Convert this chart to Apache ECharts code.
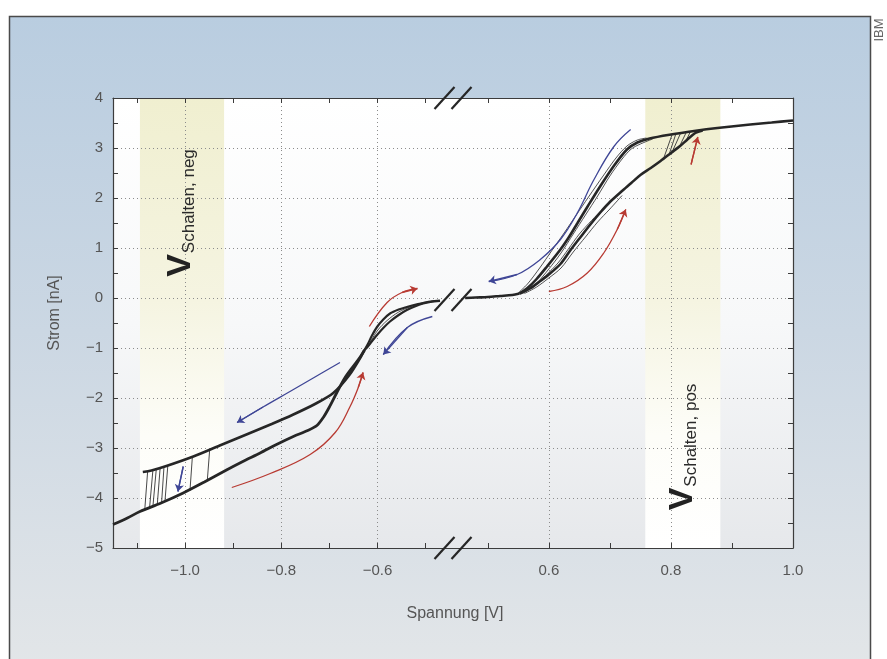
<!DOCTYPE html>
<html><head><meta charset="utf-8">
<script src="https://cdn.jsdelivr.net/npm/echarts@6/dist/echarts.min.js"></script>
<style>html,body{margin:0;padding:0;background:#fff}#c{width:887px;height:659px}</style>
</head><body><div id="c"></div>
<script>
// ---------- data ----------
const yLabels = [-5,-4,-3,-2,-1,0,1,2,3,4];
const xTicksNeg = [-1.1,-1.0,-0.9,-0.8,-0.7,-0.6,-0.5];
const xLabelsNeg = [-1.0,-0.8,-0.6];
const xTicksPos = [0.5,0.6,0.7,0.8,0.9,1.0];
const xLabelsPos = [0.6,0.8,1.0];
const xRangeNeg = [-1.15,-0.443];
const xRangePos = [0.443,1.0];
const bandNeg = [-1.094,-0.919];
const bandPos = [0.758,0.881];

const negLensA = [[-0.47,-0.05],[-0.49,-0.07],[-0.505,-0.10],[-0.52,-0.13],[-0.539,-0.18],[-0.556,-0.23],[-0.574,-0.31],[-0.588,-0.43],[-0.601,-0.58],[-0.612,-0.76],[-0.620,-0.92],[-0.627,-1.04]];
const negLensB = [[-0.47,-0.06],[-0.49,-0.08],[-0.505,-0.11],[-0.52,-0.16],[-0.539,-0.24],[-0.556,-0.34],[-0.574,-0.47],[-0.588,-0.60],[-0.601,-0.74],[-0.612,-0.87],[-0.620,-0.97],[-0.627,-1.04]];
const negLensC = [[-0.48,-0.06],[-0.505,-0.09],[-0.53,-0.17],[-0.556,-0.28],[-0.58,-0.45],[-0.60,-0.65],[-0.615,-0.88]];
const negOn = [[-0.627,-1.04],[-0.636,-1.2],[-0.66,-1.56],[-0.692,-1.9],[-0.73,-2.12],[-0.775,-2.33],[-0.82,-2.52],[-0.87,-2.72],[-0.928,-2.95],[-0.983,-3.17],[-1.039,-3.36],[-1.07,-3.45],[-1.088,-3.48]];
const negOff = [[-1.15,-4.53],[-1.12,-4.4],[-1.094,-4.27],[-1.05,-4.1],[-1.004,-3.9],[-0.96,-3.68],[-0.914,-3.44],[-0.88,-3.27],[-0.844,-3.1],[-0.81,-2.93],[-0.775,-2.77],[-0.745,-2.65],[-0.726,-2.55],[-0.712,-2.38],[-0.70,-2.18],[-0.685,-1.9],[-0.668,-1.6],[-0.65,-1.36],[-0.636,-1.18],[-0.627,-1.04]];
const negSwitch = [
  [[-1.078,-3.47],[-1.084,-4.24]],
  [[-1.067,-3.44],[-1.074,-4.20]],
  [[-1.060,-3.42],[-1.067,-4.17]],
  [[-1.052,-3.40],[-1.058,-4.14]],
  [[-1.044,-3.38],[-1.049,-4.10]],
  [[-1.036,-3.35],[-1.042,-4.07]],
  [[-0.985,-3.18],[-0.990,-3.86]],
  [[-0.949,-3.04],[-0.954,-3.66]]
];

const posShared = [[0.463,0.0],[0.48,0.01],[0.50,0.02],[0.52,0.04],[0.54,0.06],[0.552,0.09]];
const posOn = [[0.552,0.09],[0.565,0.2],[0.58,0.38],[0.597,0.63],[0.619,0.97],[0.632,1.2],[0.647,1.5],[0.663,1.82],[0.685,2.25],[0.707,2.65],[0.728,2.97],[0.745,3.11],[0.765,3.19],[0.80,3.27],[0.838,3.34],[0.876,3.4],[0.93,3.47],[0.965,3.51],[1.0,3.55]];
const posOff = [[0.552,0.09],[0.57,0.2],[0.585,0.33],[0.60,0.47],[0.619,0.68],[0.635,0.95],[0.652,1.22],[0.668,1.47],[0.685,1.72],[0.70,1.92],[0.718,2.12],[0.735,2.3],[0.75,2.46],[0.767,2.6],[0.783,2.74],[0.80,2.9],[0.815,3.04],[0.827,3.17],[0.84,3.3],[0.852,3.35]];
const posOnThinA = [[0.548,0.08],[0.565,0.28],[0.585,0.6],[0.605,0.95],[0.625,1.3],[0.645,1.66],[0.665,2.02],[0.69,2.46],[0.71,2.8],[0.728,3.04],[0.745,3.16],[0.76,3.2]];
const posOnThinB = [[0.558,0.1],[0.578,0.27],[0.60,0.58],[0.62,0.9],[0.64,1.28],[0.66,1.66],[0.68,2.04],[0.70,2.44],[0.72,2.78],[0.735,2.98],[0.75,3.08],[0.77,3.18]];
const posOffThinA = [[0.555,0.08],[0.575,0.22],[0.595,0.45],[0.615,0.7],[0.632,0.98],[0.65,1.28],[0.67,1.55],[0.69,1.8],[0.71,2.02]];
const posOffThinB = [[0.56,0.09],[0.58,0.22],[0.60,0.4],[0.62,0.6],[0.64,0.92],[0.66,1.22],[0.68,1.52],[0.70,1.78],[0.72,2.05]];
const posSwitch = [
  [[0.788,2.79],[0.802,3.27]],
  [[0.797,2.87],[0.808,3.28]],
  [[0.802,2.92],[0.816,3.30]],
  [[0.814,3.03],[0.825,3.31]],
  [[0.825,3.15],[0.832,3.33]]
];

// annotation arrows
const arrNegOn   = [[-0.678,-1.29],[-0.73,-1.58],[-0.782,-1.87],[-0.838,-2.18],[-0.892,-2.49]];
const arrNegOff  = [[-0.903,-3.79],[-0.823,-3.51],[-0.74,-3.13],[-0.688,-2.69],[-0.657,-2.17],[-0.640,-1.79],[-0.630,-1.49]];
const arrNegDown = [[-1.004,-3.37],[-1.015,-3.87]];
const arrNegMidRed  = [[-0.617,-0.57],[-0.58,-0.09],[-0.549,0.11],[-0.517,0.19]];
const arrNegMidBlue = [[-0.486,-0.37],[-0.538,-0.59],[-0.588,-1.13]];
const arrPosOn   = [[0.734,3.37],[0.7066,3.03],[0.674,2.37],[0.6466,1.70],[0.619,1.17],[0.586,0.77],[0.548,0.47],[0.5016,0.33]];
const arrPosOff  = [[0.6,0.13],[0.63,0.23],[0.663,0.50],[0.69,0.90],[0.712,1.37],[0.726,1.77]];
const arrPosUp   = [[0.833,2.67],[0.844,3.22]];

const textNeg = [{name:'«On»', value:[-0.84,-1.87], c:'blue'},{name:'«Off»', value:[-0.715,-3.3], c:'red'}];
const textPos = [{name:'«On»', value:[0.558,1.43], c:'blue'},{name:'«Off»', value:[0.709,0.49], c:'red'}];

// ---------- styles ----------
const FONT = 'Liberation Sans, Arial, sans-serif';
const AX = '#3c3c3c', LBL = '#555555', GRIDC = '#8c8c8c';
const BLUE = '#3f4696', RED = '#b83b33', CURVE = '#262626';
const G = echarts.graphic;
const bandGrad = () => new G.LinearGradient(0,0,0,1,[{offset:0,color:'#f0efd0'},{offset:0.45,color:'#f5f4e1'},{offset:0.75,color:'#fdfdf8'},{offset:1,color:'#ffffff'}]);
const fmtX = v => (v < 0 ? '\u2212' : '') + Math.abs(v).toFixed(1);
const fmtY = v => (v < 0 ? '\u2212' : '') + Math.abs(v);
const DOT = {color:GRIDC, type:[1,3], width:1};

function xAxes(grid, range, ticks, labels) {
  const base = {type:'value', gridIndex:grid, min:range[0], max:range[1]};
  return [
    Object.assign({}, base, {position:'bottom', z:3,
      axisLine:{show:true, onZero:false, lineStyle:{color:AX, width:1.2}},
      axisTick:{show:true, inside:true, length:5, customValues:ticks, lineStyle:{color:AX, width:1}},
      axisLabel:{show:true, customValues:labels, formatter:fmtX, margin:15, fontSize:15, color:LBL, fontFamily:FONT},
      splitLine:{show:false}}),
    Object.assign({}, base, {position:'top', z:3,
      axisLine:{show:true, onZero:false, lineStyle:{color:AX, width:1.2}},
      axisTick:{show:true, inside:true, length:5, customValues:ticks, lineStyle:{color:AX, width:1}},
      axisLabel:{show:false}, splitLine:{show:false}}),
    Object.assign({}, base, {position:'bottom', z:1.5,
      axisLine:{show:false, onZero:false}, axisTick:{show:false, customValues:labels},
      axisLabel:{show:false},
      splitLine:{show:true, lineStyle:DOT}})
  ];
}
function yAxis(grid, pos, showLabel) {
  return {type:'value', gridIndex:grid, min:-5, max:4, interval:1, position:pos, z:1.5,
    axisLine:{show:true, onZero:false, lineStyle:{color:AX, width:1.2}},
    axisTick:{show:true, inside:true, length:5, lineStyle:{color:AX}},
    minorTick:{show:true, splitNumber:2, length:5, lineStyle:{color:AX}},
    axisLabel:{show:showLabel, formatter:fmtY, margin:10, fontSize:15, color:LBL, fontFamily:FONT},
    splitLine:{show:true, lineStyle:DOT}};
}
function curve(data, xi, yi, w) {
  return {type:'line', data:data, xAxisIndex:xi, yAxisIndex:yi, symbol:'none', showSymbol:false, smooth:0.3,
    lineStyle:{color:CURVE, width:w}, z:2, silent:true, animation:false};
}
function segs(list, xi, yi) {
  return {type:'lines', coordinateSystem:'cartesian2d', xAxisIndex:xi, yAxisIndex:yi, z:2, silent:true,
    data:list.map(c => ({coords:c})), lineStyle:{color:'#333', width:0.9, opacity:1}, symbol:['none','none']};
}
function arrow(pts, color, xi, yi) {
  const n = pts.length;
  return [
    {type:'line', data:pts, xAxisIndex:xi, yAxisIndex:yi, symbol:'none', showSymbol:false, smooth:0.4,
      lineStyle:{color:color, width:1.3}, z:2.5, silent:true, animation:false},
    {type:'lines', coordinateSystem:'cartesian2d', xAxisIndex:xi, yAxisIndex:yi, z:2.5, silent:true,
      data:[{coords:[pts[n-2], pts[n-1]]}], lineStyle:{color:color, width:1.3, opacity:1},
      symbol:['none','arrow'], symbolSize:7}
  ];
}
function texts(list, xi, yi) {
  return {type:'scatter', xAxisIndex:xi, yAxisIndex:yi, symbolSize:1, z:3, silent:true,
    itemStyle:{opacity:0},
    data:list.map(d => ({name:d.name, value:d.value,
      label:{show:true, position:'inside', formatter:'{b}', fontSize:12, fontFamily:FONT, color:d.c==='blue'?BLUE:RED}}))};
}
function band(b, xi, yi) {
  return {type:'line', data:[], xAxisIndex:xi, yAxisIndex:yi, z:1, silent:true,
    markArea:{silent:true, itemStyle:{color:bandGrad(), opacity:1}, data:[[{xAxis:b[0]},{xAxis:b[1]}]]}};
}

const chart = echarts.init(document.getElementById('c'), null, {renderer:'canvas'});
const series = [
  band(bandNeg, 0, 0), band(bandPos, 3, 1),
  curve(negLensC, 0, 0, 0.8),
  curve(negLensA, 0, 0, 2.2), curve(negLensB, 0, 0, 2.2),
  curve(negOn, 0, 0, 2.6), curve(negOff, 0, 0, 2.8),
  segs(negSwitch, 0, 0),
  curve(posShared, 3, 1, 2.6),
  curve(posOnThinA, 3, 1, 0.8), curve(posOnThinB, 3, 1, 0.8),
  curve(posOffThinA, 3, 1, 0.8), curve(posOffThinB, 3, 1, 0.8),
  curve(posOn, 3, 1, 2.6), curve(posOff, 3, 1, 2.6),
  segs(posSwitch, 3, 1),
  ...arrow(arrNegOn, BLUE, 0, 0), ...arrow(arrNegOff, RED, 0, 0), ...arrow(arrNegDown, BLUE, 0, 0),
  ...arrow(arrNegMidRed, RED, 0, 0), ...arrow(arrNegMidBlue, BLUE, 0, 0),
  ...arrow(arrPosOn, BLUE, 3, 1), ...arrow(arrPosOff, RED, 3, 1), ...arrow(arrPosUp, RED, 3, 1),
  texts(textNeg, 0, 0), texts(textPos, 3, 1)
];

chart.setOption({
  animation:false,
  backgroundColor:'#ffffff',
  grid:[
    {left:113, top:98, width:340, height:450, show:false, outerBoundsMode:'none', containLabel:false},
    {left:453, top:98, width:340, height:450, show:false, outerBoundsMode:'none', containLabel:false}
  ],
  xAxis:[...xAxes(0, xRangeNeg, xTicksNeg, xLabelsNeg), ...xAxes(1, xRangePos, xTicksPos, xLabelsPos)],
  yAxis:[yAxis(0,'left',true), yAxis(1,'right',false)],
  series:series
});

// decorations: frame, plot background, titles, band labels, axis-break marks
const bx = chart.convertToPixel({xAxisIndex:0}, xRangeNeg[1]);
const xL = chart.convertToPixel({xAxisIndex:0}, xRangeNeg[0]);
const xR = chart.convertToPixel({xAxisIndex:3}, xRangePos[1]);
const yTop = chart.convertToPixel({yAxisIndex:0}, 4);
const yBot = chart.convertToPixel({yAxisIndex:0}, -5);
const yZero = chart.convertToPixel({yAxisIndex:0}, 0);
const bandNegPx = (chart.convertToPixel({xAxisIndex:0}, bandNeg[0]) + chart.convertToPixel({xAxisIndex:0}, bandNeg[1])) / 2;
const bandPosPx = (chart.convertToPixel({xAxisIndex:3}, bandPos[0]) + chart.convertToPixel({xAxisIndex:3}, bandPos[1])) / 2;

function slashPair(cy, id) {
  const out = [];
  [-8.5, 8.5].forEach((dx, i) => {
    out.push({type:'line', id:id+i, z:50, silent:true,
      shape:{x1:bx+dx-10, y1:cy+11, x2:bx+dx+10, y2:cy-11},
      style:{stroke:'#262626', lineWidth:2.2}});
  });
  return out;
}
const bandText = (cx, cy, sub, id) => ({type:'text', id:id, z:40, silent:true, x:cx, y:cy, rotation:Math.PI/2,
  style:{text:'{v|V}{s|' + sub + '}', align:'center', verticalAlign:'middle',
    rich:{v:{fontSize:34, fontWeight:'bold', fontFamily:FONT, fill:'#222', verticalAlign:'bottom'},
          s:{fontSize:17, fontFamily:FONT, fill:'#2a2a2a', verticalAlign:'bottom', padding:[0,0,0,1]}}}});

chart.setOption({graphic:[
  {type:'rect', id:'frame', z:-100, silent:true, shape:{x:9.5, y:16.5, width:861, height:700},
    style:{fill:new G.LinearGradient(0,0,0,1,[{offset:0,color:'#b9cde0'},{offset:0.45,color:'#cbd7e3'},{offset:1,color:'#e6e8e9'}]), stroke:'#4a4a4a', lineWidth:1.5}},
  {type:'rect', id:'plotbg', z:-50, silent:true, shape:{x:xL, y:yTop, width:xR-xL, height:yBot-yTop},
    style:{fill:new G.LinearGradient(0,0,0,1,[{offset:0,color:'#ffffff'},{offset:0.5,color:'#f7f8f9'},{offset:1,color:'#e6e8eb'}])}},
  {type:'text', id:'ibm', z:40, silent:true, x:879, y:30, rotation:Math.PI/2,
    style:{text:'IBM', fontSize:13, fontFamily:FONT, fill:'#666', align:'center', verticalAlign:'middle'}},
  {type:'text', id:'ytitle', z:40, silent:true, x:55, y:313, rotation:Math.PI/2,
    style:{text:'Strom [nA]', fontSize:16, fontFamily:FONT, fill:LBL, align:'center', verticalAlign:'middle'}},
  {type:'text', id:'xtitle', z:40, silent:true, x:455, y:614,
    style:{text:'Spannung [V]', fontSize:16, fontFamily:FONT, fill:LBL, align:'center', verticalAlign:'middle'}},
  bandText(bandNegPx - 1, 213, 'Schalten, neg', 'bneg'),
  bandText(bandPosPx, 447, 'Schalten, pos', 'bpos'),
  ...slashPair(yTop, 'st'), ...slashPair(yBot, 'sb'), ...slashPair(yZero + 2, 'sm')
]});
</script></body></html>
